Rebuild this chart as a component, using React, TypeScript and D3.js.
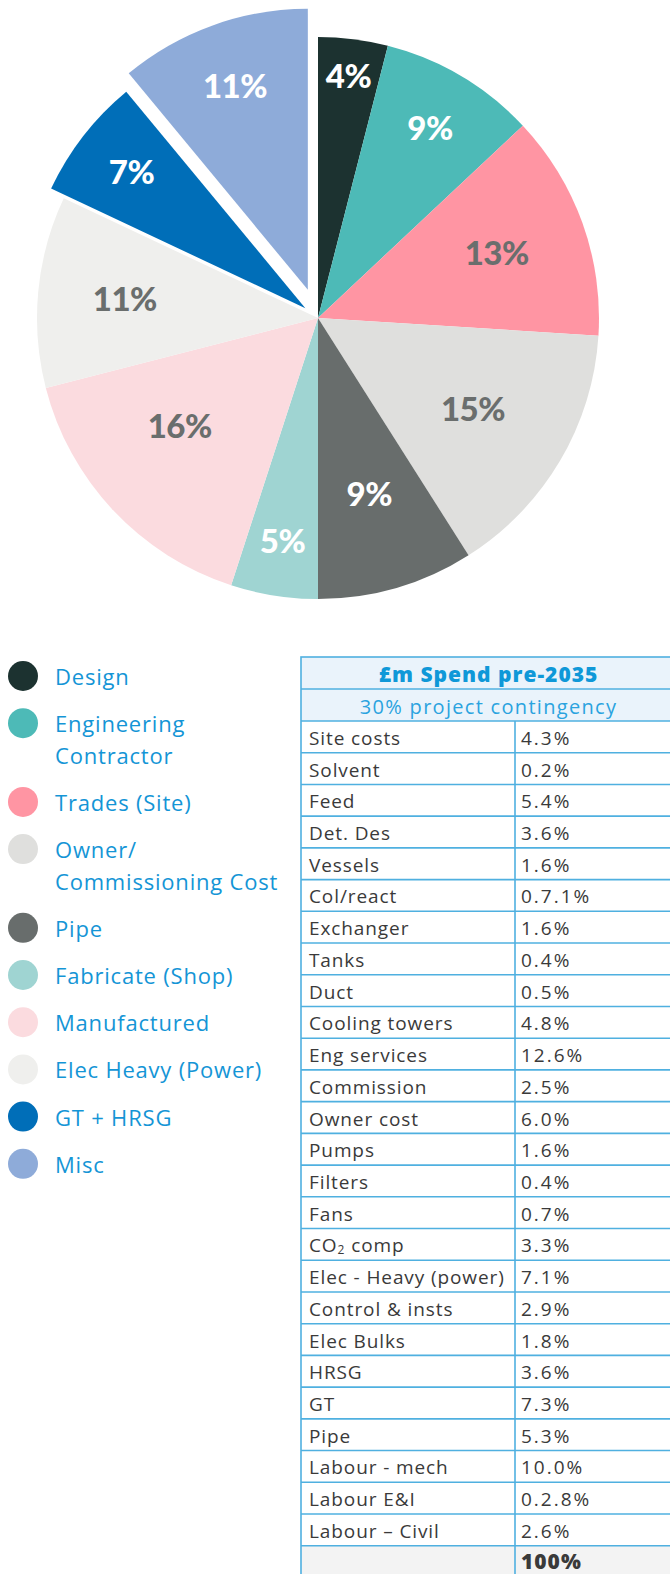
import React from "react";
import * as d3 from "d3";

const categories = [
  "Design",
  "Engineering Contractor",
  "Trades (Site)",
  "Owner/ Commissioning Cost",
  "Pipe",
  "Fabricate (Shop)",
  "Manufactured",
  "Elec Heavy (Power)",
  "GT + HRSG",
  "Misc",
];
const legendLines = [
  ["Design"],
  ["Engineering", "Contractor"],
  ["Trades (Site)"],
  ["Owner/", "Commissioning Cost"],
  ["Pipe"],
  ["Fabricate (Shop)"],
  ["Manufactured"],
  ["Elec Heavy (Power)"],
  ["GT + HRSG"],
  ["Misc"],
];
const shares = [4, 9, 13, 15, 9, 5, 16, 11, 7, 11];
const sliceColors = [
  "#1c3230", "#4dbab7", "#ff95a3", "#dfdfdd", "#686d6c",
  "#9fd4d2", "#fbdbdf", "#efefed", "#006eb8", "#8eabd9",
];
const labelColors = [
  "#ffffff", "#ffffff", "#6a6e6d", "#6a6e6d", "#ffffff",
  "#ffffff", "#6a6e6d", "#6a6e6d", "#ffffff", "#ffffff",
];
const explode = [0, 0, 0, 0, 0, 0, 0, 0, 16, 30];
const labelRadius = [243, 220, 190, 180, 184, 227, 176, 194, 220, 215];
const labelAngleShift = [0, 0, 0, 0, 0, 0, 5, 0, 0, 0];

const tableTitle = "£m Spend pre-2035";
const tableSubtitle = "30% project contingency";
const tableItems = [
  "Site costs", "Solvent", "Feed", "Det. Des", "Vessels", "Col/react",
  "Exchanger", "Tanks", "Duct", "Cooling towers", "Eng services",
  "Commission", "Owner cost", "Pumps", "Filters", "Fans", "CO2 comp",
  "Elec - Heavy (power)", "Control & insts", "Elec Bulks", "HRSG", "GT",
  "Pipe", "Labour - mech", "Labour E&I", "Labour – Civil",
];
const tableValues = [
  "4.3%", "0.2%", "5.4%", "3.6%", "1.6%", "0.7.1%", "1.6%", "0.4%", "0.5%",
  "4.8%", "12.6%", "2.5%", "6.0%", "1.6%", "0.4%", "0.7%", "3.3%", "7.1%",
  "2.9%", "1.8%", "3.6%", "7.3%", "5.3%", "10.0%", "0.2.8%", "2.6%",
];
const tableTotal = "100%";

export default function App() {
  const W = 670;
  const H = 1574;
  const cx = 318;
  const cy = 318;
  const R = 281;

  const pie = d3.pie<number>().sort(null).value((d) => d).startAngle(0).endAngle(2 * Math.PI);
  const arcs = pie(shares);
  const arcGen = d3.arc<d3.PieArcDatum<number>>().innerRadius(0).outerRadius(R);

  // legend
  const legX = 23;
  const legTextX = 55;
  const legY0 = 676;
  const legStep = 47.2;
  const lineH = 31.5;
  let extra = 0;
  const legendItems = legendLines.map((lines, i) => {
    const y = legY0 + i * legStep + extra;
    extra += (lines.length - 1) * lineH;
    return { lines, y, color: sliceColors[i] };
  });

  // table
  const tx0 = 301;
  const tx1 = 515;
  const tx2 = 676;
  const ty0 = 657;
  const hRow = 32;
  const rowH = 31.72;
  const bodyY0 = ty0 + 2 * hRow;
  const yRow = d3.scaleLinear().domain([0, tableItems.length]).range([bodyY0, bodyY0 + tableItems.length * rowH]);
  const border = "#4fb0e0";
  const totalY = yRow(tableItems.length);

  const fontPie = "Lato, 'Open Sans', sans-serif";
  const fontBody = "'Open Sans', 'Noto Sans', sans-serif";
  const bodyColor = "#3a3a3a";

  return (
    <svg width={W} height={H} style={{ position: "absolute", left: 0, top: 0, background: "#fff" }}>
      <g transform={`translate(${cx},${cy})`}>
        {arcs.map((a, i) => {
          const mid = (a.startAngle + a.endAngle) / 2;
          const dx = Math.sin(mid) * explode[i];
          const dy = -Math.cos(mid) * explode[i];
          const la = mid + (labelAngleShift[i] * Math.PI) / 180;
          const lr = labelRadius[i];
          const lx = Math.sin(la) * lr + dx;
          const ly = -Math.cos(la) * lr + dy - 2;
          return (
            <g key={i}>
              <path d={arcGen(a) || ""} fill={sliceColors[i]} transform={`translate(${dx},${dy})`} />
              <text
                x={lx}
                y={ly}
                textAnchor="middle"
                dominantBaseline="central"
                fill={labelColors[i]}
                fontFamily={fontPie}
                fontWeight={900}
                fontSize={33}
                letterSpacing={-0.5}
              >
                {shares[i]}%
              </text>
            </g>
          );
        })}
      </g>

      {legendItems.map((it, i) => (
        <g key={i}>
          <circle cx={legX} cy={it.y} r={15} fill={it.color} />
          {it.lines.map((ln, j) => (
            <text
              key={j}
              x={legTextX}
              y={it.y + j * lineH}
              dominantBaseline="central"
              fill="#1495d6"
              fontFamily={fontBody}
              fontSize={22}
              letterSpacing={0.8}
            >
              {ln}
            </text>
          ))}
        </g>
      ))}

      {/* table header */}
      <rect x={tx0} y={ty0} width={tx2 - tx0} height={2 * hRow} fill="#eaf3fb" />
      <rect x={tx0} y={totalY} width={tx2 - tx0} height={H - totalY + 10} fill="#f3f3f3" />
      <text x={(tx0 + tx2) / 2} y={ty0 + hRow / 2 + 1} textAnchor="middle" dominantBaseline="central"
        fill="#0f98d8" fontFamily={fontBody} fontWeight={800} fontSize={21} letterSpacing={1}>
        {tableTitle}
      </text>
      <text x={(tx0 + tx2) / 2} y={ty0 + hRow * 1.5 + 1} textAnchor="middle" dominantBaseline="central"
        fill="#2aa3df" fontFamily={fontBody} fontSize={20} letterSpacing={1.3}>
        {tableSubtitle}
      </text>
      {tableItems.map((item, i) => {
        const y = yRow(i) + rowH / 2 + 1;
        const isCO2 = item.startsWith("CO2");
        return (
          <g key={i}>
            <text x={tx0 + 8} y={y} dominantBaseline="central" fill={bodyColor} fontFamily={fontBody} fontSize={19} letterSpacing={0.9}>
              {isCO2 ? (
                <>
                  CO<tspan fontSize={12} dy={4}>2</tspan>
                  <tspan dy={-4}>{item.slice(3)}</tspan>
                </>
              ) : (
                item
              )}
            </text>
            <text x={tx1 + 6} y={y} dominantBaseline="central" fill={bodyColor} fontFamily={fontBody} fontSize={19} letterSpacing={2}>
              {tableValues[i]}
            </text>
          </g>
        );
      })}
      <text x={tx1 + 6} y={totalY + 15} dominantBaseline="central" fill={bodyColor} fontFamily={fontBody}
        fontWeight={800} fontSize={21} letterSpacing={1}>
        {tableTotal}
      </text>

      {/* grid lines */}
      <g stroke={border} strokeWidth={1.6} fill="none">
        <rect x={tx0} y={ty0} width={tx2 - tx0} height={H - ty0 + 10} />
        <line x1={tx0} x2={tx2} y1={ty0 + hRow} y2={ty0 + hRow} />
        {d3.range(tableItems.length + 1).map((i) => (
          <line key={i} x1={tx0} x2={tx2} y1={yRow(i)} y2={yRow(i)} />
        ))}
        <line x1={tx1} x2={tx1} y1={bodyY0} y2={H + 10} />
      </g>
    </svg>
  );
}
